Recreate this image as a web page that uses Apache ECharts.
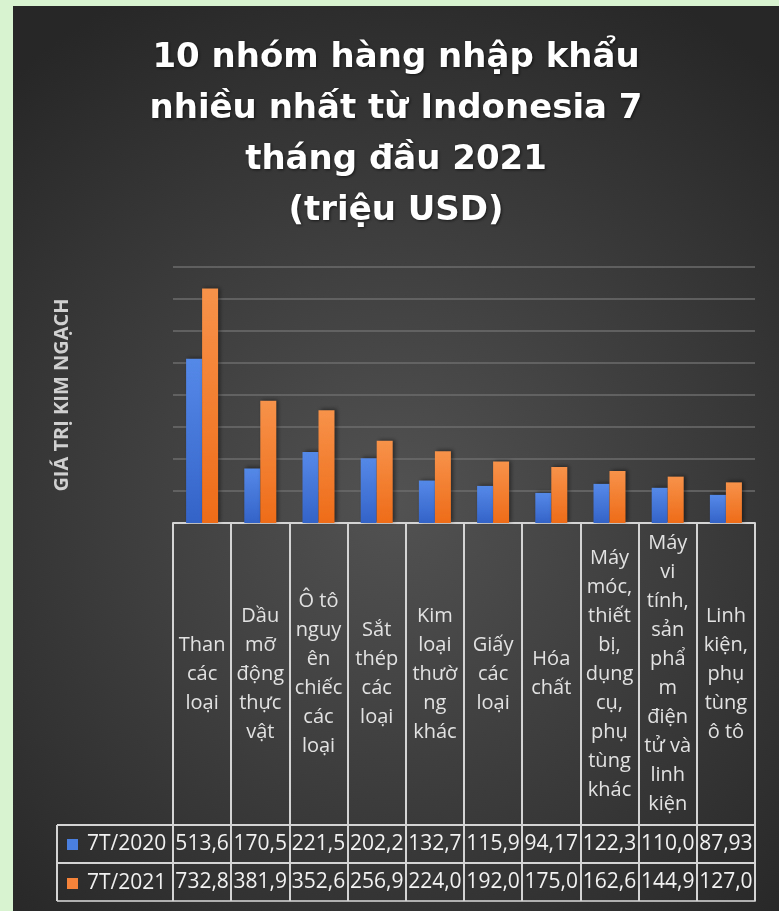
<!DOCTYPE html>
<html>
<head>
<meta charset="utf-8">
<script src="https://cdn.jsdelivr.net/npm/echarts@6/dist/echarts.min.js"></script>
<style>
  html, body { margin: 0; padding: 0; background: #d8f3cf; width: 779px; height: 911px; overflow: hidden; }
  #chart { position: absolute; left: 13px; top: 6px; width: 766px; height: 905px; }
</style>
</head>
<body>
<div id="chart"></div>
<script>
// ---- data ----
const categories = [
  "Than\ncác\nloại",
  "Dầu\nmỡ\nđộng\nthực\nvật",
  "Ô tô\nnguy\nên\nchiếc\ncác\nloại",
  "Sắt\nthép\ncác\nloại",
  "Kim\nloại\nthườ\nng\nkhác",
  "Giấy\ncác\nloại",
  "Hóa\nchất",
  "Máy\nmóc,\nthiết\nbị,\ndụng\ncụ,\nphụ\ntùng\nkhác",
  "Máy\nvi\ntính,\nsản\nphẩ\nm\nđiện\ntử và\nlinh\nkiện",
  "Linh\nkiện,\nphụ\ntùng\nô tô"
];
const seriesNames = ["7T/2020", "7T/2021"];
const values2020 = [513.6, 170.5, 221.5, 202.2, 132.7, 115.9, 94.17, 122.3, 110.0, 87.93];
const values2021 = [732.8, 381.9, 352.6, 256.9, 224.0, 192.0, 175.0, 162.6, 144.9, 127.0];
const titleText = "10 nhóm hàng nhập khẩu\nnhiều nhất từ Indonesia 7\ntháng đầu 2021\n(triệu USD)";
const yAxisTitle = "GIÁ TRỊ KIM NGẠCH";

// ---- layout ----
const W = 766, H = 905;
const gridLeft = 160, gridRight = 24, gridTop = 261, gridBottom = 388;
const catRowH = 302, valRowH = 38;
const legendBoxLeft = 44;
const plotBottom = H - gridBottom;
const lineColor = '#d4d4d4';

function fmt(v) { return v.toPrecision(4).replace('.', ','); }

const chart = echarts.init(document.getElementById('chart'), null, { renderer: 'canvas' });

const font = 'Open Sans';

const option = {
  animation: false,
  backgroundColor: new echarts.graphic.RadialGradient(0.5, 0.55, 0.75, [
    { offset: 0, color: '#525252' },
    { offset: 1, color: '#272727' }
  ]),
  title: {
    text: titleText,
    left: 'center',
    top: 27,
    padding: 0,
    textStyle: {
      fontFamily: 'DejaVu Sans',
      fontWeight: 'bold',
      fontSize: 34,
      lineHeight: 51,
      color: '#ffffff',
      textShadowColor: 'rgba(0,0,0,0.6)',
      textShadowBlur: 3,
      textShadowOffsetX: 1,
      textShadowOffsetY: 1
    }
  },
  legend: {
    orient: 'vertical',
    left: legendBoxLeft + 10,
    top: plotBottom + catRowH + valRowH / 2 - 10,
    itemWidth: 11,
    itemHeight: 11,
    itemGap: valRowH - 20,
    icon: 'rect',
    padding: 0,
    textStyle: { color: '#f0f0f0', fontFamily: font, fontSize: 21, lineHeight: 20, padding: [0, 0, 0, 4] },
    data: [
      { name: seriesNames[0], itemStyle: { color: '#4a7fe0' } },
      { name: seriesNames[1], itemStyle: { color: '#f5843a' } }
    ]
  },
  grid: { left: gridLeft, right: gridRight, top: gridTop, bottom: gridBottom },
  xAxis: [
    {
      type: 'category', data: categories, position: 'bottom', offset: 0,
      axisLine: { show: true, onZero: false, lineStyle: { color: lineColor, width: 2 } },
      axisTick: { show: true, interval: 0, length: catRowH, lineStyle: { color: lineColor, width: 2 } },
      axisLabel: { show: true, interval: 0, margin: catRowH / 2, verticalAlign: 'middle', lineHeight: 29,
                   color: '#e2e2e2', fontFamily: font, fontSize: 20 },
      splitLine: { show: false }
    },
    {
      type: 'category', data: values2020.map(fmt), position: 'bottom', offset: catRowH,
      axisLine: { show: true, onZero: false, lineStyle: { color: lineColor, width: 2 } },
      axisTick: { show: true, interval: 0, length: valRowH, lineStyle: { color: lineColor, width: 2 } },
      axisLabel: { show: true, interval: 0, margin: valRowH / 2, verticalAlign: 'middle',
                   color: '#f2f2f2', fontFamily: font, fontSize: 21 },
      splitLine: { show: false }
    },
    {
      type: 'category', data: values2021.map(fmt), position: 'bottom', offset: catRowH + valRowH,
      axisLine: { show: true, onZero: false, lineStyle: { color: lineColor, width: 2 } },
      axisTick: { show: true, interval: 0, length: valRowH, lineStyle: { color: lineColor, width: 2 } },
      axisLabel: { show: true, interval: 0, margin: valRowH / 2, verticalAlign: 'middle',
                   color: '#f2f2f2', fontFamily: font, fontSize: 21 },
      splitLine: { show: false }
    },
    {
      type: 'category', data: categories, position: 'bottom', offset: catRowH + 2 * valRowH,
      axisLine: { show: true, onZero: false, lineStyle: { color: '#b0b0b0', width: 2 } },
      axisTick: { show: false },
      axisLabel: { show: false },
      splitLine: { show: false }
    }
  ],
  yAxis: {
    type: 'value', min: 0, max: 800, interval: 100,
    name: yAxisTitle,
    nameLocation: 'middle',
    nameGap: 101,
    nameRotate: 90,
    nameTextStyle: { color: '#d0d0d0', fontFamily: font, fontWeight: 'bold', fontSize: 20 },
    axisLabel: { show: false },
    axisLine: { show: false },
    axisTick: { show: false },
    splitLine: { show: true, lineStyle: { color: '#6c6c6c', width: 1.5 } }
  },
  series: [
    {
      name: seriesNames[0], type: 'bar', xAxisIndex: 0, data: values2020,
      barWidth: 16, barGap: '0%',
      itemStyle: {
        color: new echarts.graphic.LinearGradient(0, 0, 0, 1, [
          { offset: 0, color: '#5589e8' }, { offset: 1, color: '#3463c8' }
        ]),
        shadowColor: 'rgba(0,0,0,0.45)', shadowBlur: 4, shadowOffsetX: 2, shadowOffsetY: -1
      }
    },
    {
      name: seriesNames[1], type: 'bar', xAxisIndex: 0, data: values2021,
      barWidth: 16, barGap: '0%',
      itemStyle: {
        color: new echarts.graphic.LinearGradient(0, 0, 0, 1, [
          { offset: 0, color: '#f7924a' }, { offset: 1, color: '#ee6c18' }
        ]),
        shadowColor: 'rgba(0,0,0,0.45)', shadowBlur: 4, shadowOffsetX: 2, shadowOffsetY: -1
      }
    }
  ],
  graphic: [
    { type: 'line', silent: true,
      shape: { x1: legendBoxLeft, y1: plotBottom + catRowH, x2: gridLeft, y2: plotBottom + catRowH },
      style: { stroke: lineColor, lineWidth: 2 } },
    { type: 'line', silent: true,
      shape: { x1: legendBoxLeft, y1: plotBottom + catRowH + valRowH, x2: gridLeft, y2: plotBottom + catRowH + valRowH },
      style: { stroke: lineColor, lineWidth: 2 } },
    { type: 'line', silent: true,
      shape: { x1: legendBoxLeft, y1: plotBottom + catRowH + 2 * valRowH, x2: gridLeft, y2: plotBottom + catRowH + 2 * valRowH },
      style: { stroke: '#b0b0b0', lineWidth: 2 } },
    { type: 'line', silent: true,
      shape: { x1: legendBoxLeft, y1: plotBottom + catRowH, x2: legendBoxLeft, y2: plotBottom + catRowH + 2 * valRowH },
      style: { stroke: lineColor, lineWidth: 2 } }
  ]
};

chart.setOption(option);
</script>
</body>
</html>
